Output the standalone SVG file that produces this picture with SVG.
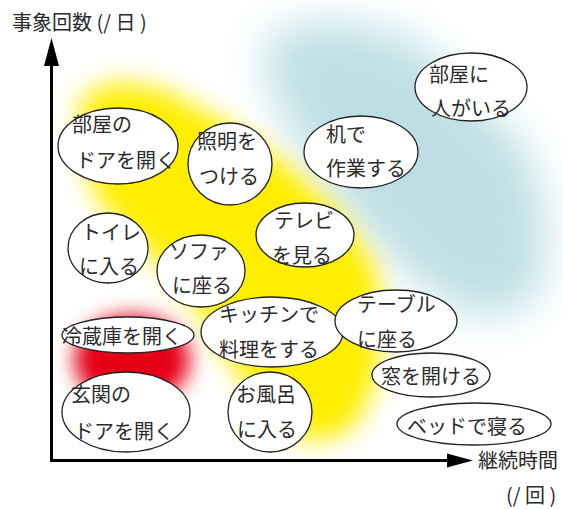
<svg xmlns="http://www.w3.org/2000/svg" width="563" height="509" viewBox="0 0 563 509">
<defs>
<style>
.t{font-family:"Noto Sans CJK JP","Noto Sans CJK SC",sans-serif;font-size:20px;fill:#2b2b2b}
.n ellipse{fill:#fff;stroke:#222;stroke-width:1.3}
.ax{stroke:#000;stroke-width:3;fill:none}
</style>
<filter id="bB" x="-50%" y="-50%" width="200%" height="200%"><feGaussianBlur stdDeviation="22"/></filter>
<filter id="bY" x="-50%" y="-50%" width="200%" height="200%"><feGaussianBlur stdDeviation="13"/></filter>
<filter id="bR" x="-50%" y="-50%" width="200%" height="200%"><feGaussianBlur stdDeviation="10"/></filter>
</defs>
<rect width="563" height="509" fill="#fff"/>
<g id="glows">
<path d="M265,35 L330,20 L410,38 L470,92 L528,152 L546,220 L542,284 L512,316 L462,312 L410,276 L368,234 L328,188 L294,134 L268,82 Z" fill="#bddfe4" filter="url(#bB)"/>
<path d="M80,100 L110,82 L160,88 L225,122 L290,168 L340,215 L374,265 L384,320 L376,382 L356,425 L324,442 L292,434 L258,402 L228,358 L198,310 L162,265 L122,228 L95,195 L82,150 Z" fill="#ffee00" filter="url(#bY)"/>
<ellipse cx="132" cy="360" rx="58" ry="45" fill="#e60012" filter="url(#bR)"/>
</g>
<g id="axes">
<line class="ax" x1="51.5" y1="62" x2="51.5" y2="462"/>
<polygon points="51.5,38 44,66 59,66" fill="#000"/>
<line class="ax" x1="50" y1="460.5" x2="450" y2="460.5"/>
<polygon points="473,460.5 447,453.5 447,467.5" fill="#000"/>
<text class="t" x="12" y="30">事象回数 (/ 日 )</text>
<text class="t" x="478" y="468">継続時間</text>
<text class="t" x="506" y="503">(/ 回 )</text>
</g>
<g id="n1" class="n"><ellipse cx="118" cy="146" rx="60" ry="38"/><text class="t" x="72" y="132">部屋の</text><text class="t" x="76" y="168">ドアを開く</text></g>
<g id="n2" class="n"><ellipse cx="230" cy="164" rx="42" ry="41"/><text class="t" x="197" y="149">照明を</text><text class="t" x="199" y="184">つける</text></g>
<g id="n3" class="n"><ellipse cx="361" cy="152" rx="57" ry="36"/><text class="t" x="326" y="142">机で</text><text class="t" x="326" y="176">作業する</text></g>
<g id="n4" class="n"><ellipse cx="471" cy="87" rx="56" ry="34"/><text class="t" x="429" y="82">部屋に</text><text class="t" x="431" y="116">人がいる</text></g>
<g id="n5" class="n"><ellipse cx="108" cy="248" rx="40" ry="35"/><text class="t" x="81" y="240">トイレ</text><text class="t" x="79" y="274">に入る</text></g>
<g id="n6" class="n"><ellipse cx="201" cy="271" rx="44" ry="36"/><text class="t" x="169" y="259">ソファ</text><text class="t" x="172" y="293">に座る</text></g>
<g id="n7" class="n"><ellipse cx="305" cy="235" rx="49" ry="32"/><text class="t" x="274" y="228">テレビ</text><text class="t" x="272" y="263">を見る</text></g>
<g id="n8" class="n"><ellipse cx="272" cy="332" rx="71" ry="35"/><text class="t" x="219" y="322">キッチンで</text><text class="t" x="219" y="357">料理をする</text></g>
<g id="n9" class="n"><ellipse cx="396" cy="321" rx="61" ry="31"/><text class="t" x="357" y="312">テーブル</text><text class="t" x="357" y="347">に座る</text></g>
<g id="n10" class="n"><ellipse cx="128" cy="335" rx="66" ry="18"/><text class="t" x="62" y="344">冷蔵庫を開く</text></g>
<g id="n11" class="n"><ellipse cx="431" cy="375" rx="59" ry="22"/><text class="t" x="381" y="384">窓を開ける</text></g>
<g id="n12" class="n"><ellipse cx="126" cy="412" rx="64" ry="40"/><text class="t" x="71" y="402">玄関の</text><text class="t" x="74" y="439">ドアを開く</text></g>
<g id="n13" class="n"><ellipse cx="270" cy="412" rx="42" ry="40"/><text class="t" x="236" y="402">お風呂</text><text class="t" x="237" y="437">に入る</text></g>
<g id="n14" class="n"><ellipse cx="474" cy="424" rx="77" ry="21"/><text class="t" x="407" y="434">ベッドで寝る</text></g>
</svg>
